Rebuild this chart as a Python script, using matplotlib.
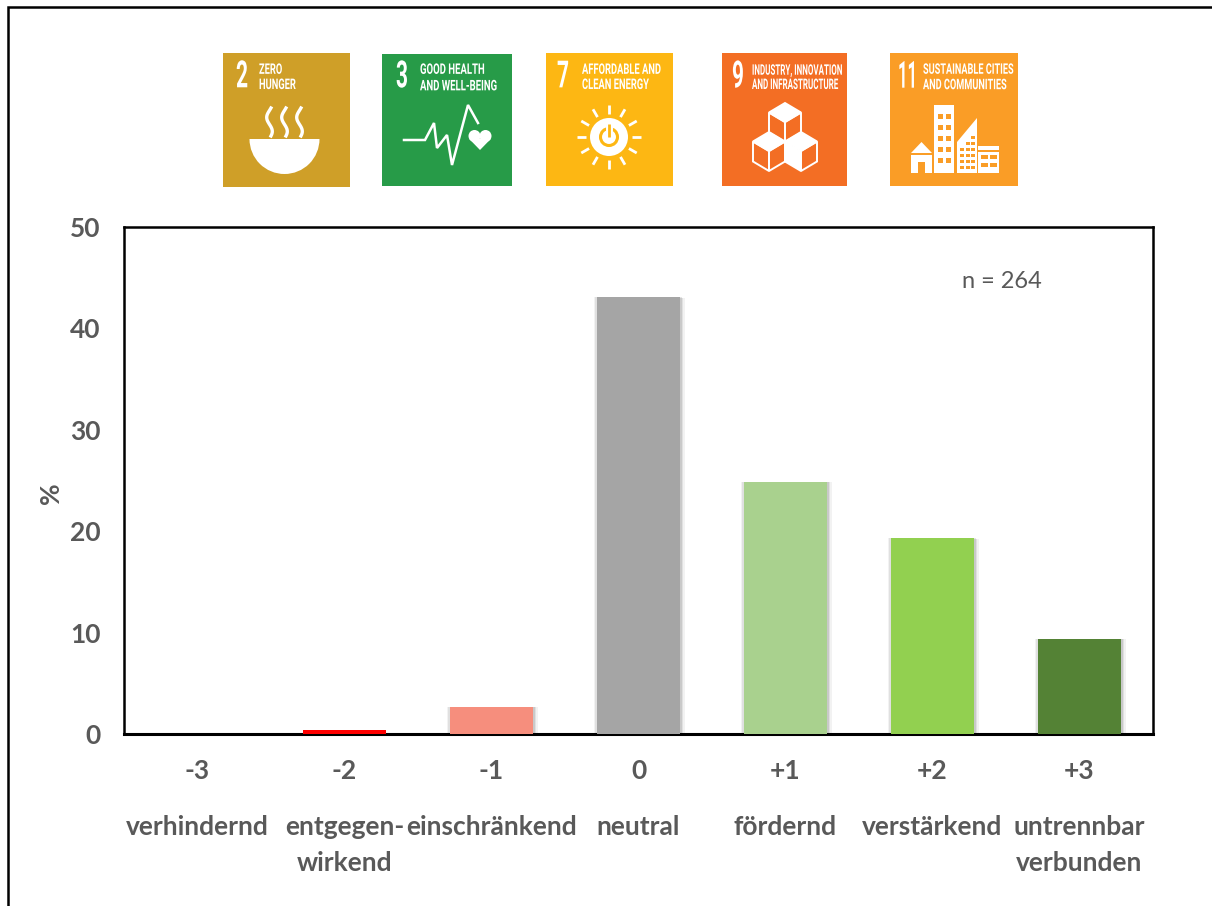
import numpy as np
import matplotlib
matplotlib.use("Agg")
import matplotlib.pyplot as plt
from matplotlib.patches import Rectangle, Polygon, Circle, Wedge
from matplotlib.transforms import Affine2D
import matplotlib.patheffects as pe

codes = ["-3", "-2", "-1", "0", "+1", "+2", "+3"]
names = ["verhindernd", "entgegen-\nwirkend", "einschränkend", "neutral",
         "fördernd", "verstärkend", "untrennbar\nverbunden"]
values = [0.0, 0.4, 2.7, 43.1, 24.9, 19.3, 9.4]
bar_colors = ["#c00000", "#ff0000", "#f68e7d", "#a5a5a5", "#a9d18e", "#92d050", "#548235"]
y_ticks = [0, 10, 20, 30, 40, 50]
annotation = "n = 264"
sdg_numbers = ["2", "3", "7", "9", "11"]
sdg_titles = ["ZERO\nHUNGER", "GOOD HEALTH\nAND WELL-BEING", "AFFORDABLE AND\nCLEAN ENERGY",
              "INDUSTRY, INNOVATION\nAND INFRASTRUCTURE", "SUSTAINABLE CITIES\nAND COMMUNITIES"]
sdg_colors = ["#cf9f28", "#279b48", "#fdb713", "#f36e24", "#fa9d26"]

W, H = 1212, 906
FONT = ["Lato", "Open Sans", "DejaVu Sans"]
GREY = "#595959"


class Stretch(pe.AbstractPathEffect):
    """Draw a text stretched vertically about a fixed pixel y."""
    def __init__(self, y0, sy):
        super().__init__()
        self.y0, self.sy = y0, sy

    def draw_path(self, renderer, gc, tpath, affine, rgbFace=None):
        t = affine + Affine2D().translate(0, -self.y0).scale(1, self.sy).translate(0, self.y0)
        renderer.draw_path(gc, tpath, t, rgbFace)


fig = plt.figure(figsize=(W / 100, H / 100), dpi=100, facecolor="white")
ax = fig.add_axes([124 / W, 1 - 734 / H, (1153 - 124) / W, (734 - 227) / H])
x = np.arange(len(values))
bars = ax.bar(x, values, width=0.57, color=bar_colors, linewidth=0, zorder=3)
for b, v in zip(bars, values):
    if v > 1:
        b.set_path_effects([
            pe.SimplePatchShadow(offset=(-1.6, 0), shadow_rgbFace="#000000", alpha=0.05),
            pe.SimplePatchShadow(offset=(-0.8, 0), shadow_rgbFace="#000000", alpha=0.07),
            pe.SimplePatchShadow(offset=(3.0, -0.5), shadow_rgbFace="#000000", alpha=0.05),
            pe.SimplePatchShadow(offset=(2.0, -0.5), shadow_rgbFace="#000000", alpha=0.07),
            pe.SimplePatchShadow(offset=(1.0, 0), shadow_rgbFace="#000000", alpha=0.10),
            pe.Normal(),
        ])
ax.set_xlim(-0.5, len(values) - 0.5)
ax.set_ylim(0, 50)
ax.set_yticks(y_ticks)
ax.set_xticks([])
ax.tick_params(axis="y", length=0, pad=17, labelsize=19, labelcolor=GREY)
for t in ax.get_yticklabels():
    t.set_family(FONT)
    t.set_fontweight("bold")
for s in ax.spines.values():
    s.set_linewidth(1.8)
    s.set_color("black")
ax.spines["bottom"].set_linewidth(2.2)

for xi, c, n in zip(x, codes, names):
    ax.annotate(c, (xi, 0), xycoords=("data", "axes fraction"), xytext=(0, -26.5),
                textcoords="offset points", ha="center", va="center",
                family=FONT, fontweight="bold", fontsize=19, color=GREY)
    ax.annotate(n, (xi, 0), xycoords=("data", "axes fraction"), xytext=(0, -58),
                textcoords="offset points", ha="center", va="top", linespacing=1.6,
                family=FONT, fontweight="bold", fontsize=19, color=GREY)

ax.set_ylabel("%", family=FONT, fontweight="bold", fontsize=19, color=GREY, va="center")
ax.yaxis.set_label_coords((51 - 124) / (1153 - 124), (734 - 493) / (734 - 227))

# pixel overlay for the pictograms and the picture frame
ov = fig.add_axes([0, 0, 1, 1], zorder=5)
ov.set_xlim(0, W)
ov.set_ylim(H, 0)
ov.axis("off")
ov.patch.set_alpha(0)
ov.text(1002, 282, annotation, ha="center", va="center", family=FONT, fontsize=17, color=GREY)

ov.plot([8, 8, W], [H, 7, 7], color="black", lw=1.8, solid_joinstyle="miter")

boxes = [(223, 53, 350, 187), (382, 54, 512, 186), (546, 53, 673, 186),
         (722, 53, 847, 186), (890, 53, 1018, 186)]
num_x = [(236, 248), (396, 408), (557, 569), (732, 744), (898, 917)]
title_x = [(259, 296), (420, 497), (582, 661), (752, 843), (923, 1014)]
wh = "#ffffff"
rend = fig.canvas.get_renderer()


def fit_text(s, x0, x1, y, size, weight):
    t = ov.text(x0, y, s, ha="left", va="center", color=wh, family=["Roboto", "DejaVu Sans"],
                fontsize=size, fontweight=weight, linespacing=1.1)
    ratio = (x1 - x0) / t.get_window_extent(rend).width
    t.set_fontsize(size * ratio)
    t.set_path_effects([Stretch(H - y, 1 / ratio)])


for (l, t, r, b), num, title, col, nx, tx in zip(boxes, sdg_numbers, sdg_titles, sdg_colors, num_x, title_x):
    ov.add_patch(Rectangle((l, t), r - l, b - t, fc=col, ec="none"))
    fit_text(num, nx[0], nx[1], 77.5, 27, "bold")
    fit_text(title, tx[0], tx[1], 77.5, 10.5, "bold")

# Icon 2: bowl
cx = 284.5
ov.add_patch(Wedge((cx, 139), 35, 0, 180, fc=wh, ec="none"))
ov.add_patch(Rectangle((cx - 12, 163), 24, 7, fc=wh, ec="none"))
for dx in (-15, 0, 15):
    yy = np.linspace(108, 136, 30)
    ov.plot(cx + dx + 2.8 * np.sin((yy - 108) / 28 * 2 * np.pi + 2.6), yy, color=wh, lw=2.4)

# Icon 3: pulse + heart
ov.plot([404, 425, 434, 437, 447, 452, 468, 478],
        [140, 140, 123, 148, 135, 165, 105, 123],
        color=wh, lw=1.8, solid_joinstyle="miter")
ov.add_patch(Circle((474.5, 136), 6, fc=wh, ec="none"))
ov.add_patch(Circle((485.5, 136), 6, fc=wh, ec="none"))
ov.add_patch(Polygon([(468.8, 138.5), (491.2, 138.5), (480, 150)], fc=wh, ec="none"))

# Icon 7: sun with power symbol
cx, cy = 609, 137
ov.add_patch(Circle((cx, cy), 19, fc=wh, ec="none"))
ov.add_patch(Circle((cx, cy), 8.5, fc="none", ec=sdg_colors[2], lw=2.2))
ov.plot([cx, cx], [cy - 14, cy - 1], color=wh, lw=5, solid_capstyle="butt")
ov.plot([cx, cx], [cy - 13, cy], color=sdg_colors[2], lw=2, solid_capstyle="butt")
for a in np.deg2rad(np.arange(0, 360, 30)):
    ov.plot([cx + 23 * np.cos(a), cx + 32 * np.cos(a)], [cy + 23 * np.sin(a), cy + 32 * np.sin(a)],
            color=wh, lw=2, solid_capstyle="butt")


# Icon 9: cubes
def cube(cx, top, fill_left=False):
    s, h, d = 16, 9.5, 20
    A = (cx, top); B = (cx + s, top + h); C = (cx, top + 2 * h); D = (cx - s, top + h)
    E = (cx - s, top + h + d); F = (cx, top + 2 * h + d); G = (cx + s, top + h + d)
    ov.add_patch(Polygon([D, C, F, E], fc=wh if fill_left else "none", ec=wh, lw=1.4))
    ov.add_patch(Polygon([B, C, F, G], fc="none", ec=wh, lw=1.4))
    ov.add_patch(Polygon([A, B, C, D], fc=wh, ec=wh, lw=1.4))


cube(785, 103)
cube(769, 132)
cube(801, 132, True)

# Icon 11: city
c11 = sdg_colors[4]
ov.add_patch(Polygon([(911, 153), (921.5, 142), (932, 153)], fc=wh, ec="none"))
ov.add_patch(Rectangle((911, 155), 21, 18, fc=wh, ec="none"))
ov.add_patch(Rectangle((918, 162), 7, 11, fc=c11, ec="none"))
ov.add_patch(Rectangle((934, 105), 20, 68, fc=wh, ec="none"))
for yy in (114, 125, 136, 147, 158):
    for xx in (938, 946):
        ov.add_patch(Rectangle((xx, yy), 4.5, 5, fc=c11, ec="none"))
ov.add_patch(Polygon([(957, 173), (957, 142), (977, 118), (977, 173)], fc=wh, ec="none"))
for yy in np.arange(130, 170, 6):
    for xx in (960, 966, 971):
        if yy > 127 + (975 - xx) * 1.2 + 2:
            ov.add_patch(Rectangle((xx, yy), 4, 3, fc=c11, ec="none"))
ov.add_patch(Rectangle((978, 146), 21, 27, fc=wh, ec="none"))
ov.add_patch(Rectangle((978, 150), 21, 1.5, fc=c11, ec="none"))
for yy in (155, 163):
    for xx in (981, 990):
        ov.add_patch(Rectangle((xx, yy), 7, 4, fc=c11, ec="none"))

fig.savefig("out.png", dpi=100)
